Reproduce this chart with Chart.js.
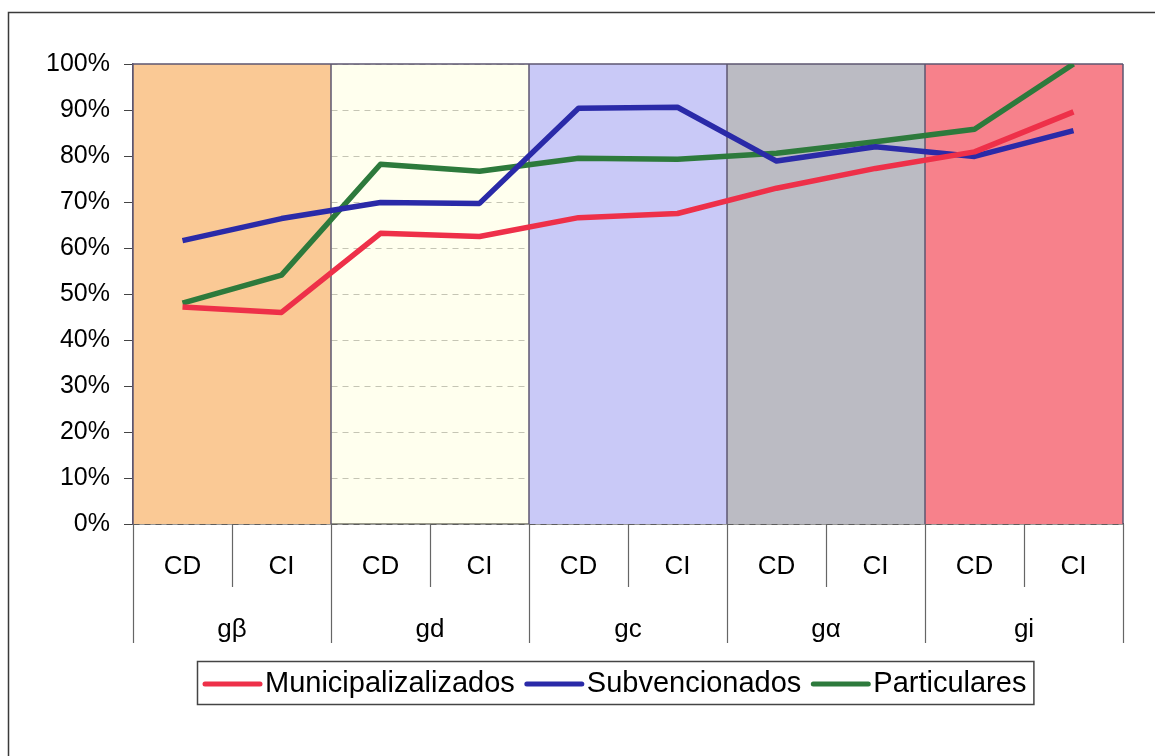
<!DOCTYPE html>
<html>
<head>
<meta charset="utf-8">
<title>Municipalizados / Subvencionados / Particulares</title>
<script src="https://cdn.jsdelivr.net/npm/chart.js@4.4.1/dist/chart.umd.min.js"></script>
<style>
  html, body { margin: 0; padding: 0; background: #ffffff; }
  #wrap { position: relative; width: 1155px; height: 756px; }
</style>
</head>
<body>
<div id="wrap"><canvas id="grupoChart" width="1155" height="756"></canvas></div>
<script>
// categories on the first axis row, groups on the second row
const categories = ['CD', 'CI', 'CD', 'CI', 'CD', 'CI', 'CD', 'CI', 'CD', 'CI'];
const groups = ['gβ', 'gd', 'gc', 'gα', 'gi'];

// percentages per category
const municipalizados = [47.2, 46.0, 63.2, 62.5, 66.6, 67.5, 73.0, 77.3, 80.9, 89.6];
const subvencionados = [61.6, 66.4, 69.9, 69.7, 90.4, 90.6, 78.9, 82.0, 79.9, 85.5];
const particulares = [48.0, 54.1, 78.2, 76.7, 79.5, 79.3, 80.6, 83.1, 85.8, 100.0];

const yTicks = [0, 10, 20, 30, 40, 50, 60, 70, 80, 90, 100];

// background colour behind each group (gd is see-through so the grid shows)
const groupColors = ['#fac995', 'rgba(255,255,222,0.5)', '#c9c9f7', '#bbbbc3', '#f7818b'];

const FONT = "'Liberation Sans', Arial, sans-serif";

// draws the coloured group bands behind the lines
const groupBands = {
    id: 'groupBands',
    beforeDatasetsDraw(chart) {
        const { ctx, chartArea, scales } = chart;
        const x = scales.x;
        const step = x.getPixelForValue(1) - x.getPixelForValue(0);
        ctx.save();
        groups.forEach((g, i) => {
            const left = x.getPixelForValue(i * 2) - step / 2;
            ctx.fillStyle = groupColors[i];
            ctx.fillRect(left, chartArea.top, step * 2, chartArea.bottom - chartArea.top);
        });
        // band edges
        ctx.strokeStyle = '#5d5670';
        ctx.lineWidth = 1.5;
        for (let i = 0; i <= groups.length; i++) {
            const bx = x.getPixelForValue(i * 2) - step / 2;
            ctx.beginPath();
            ctx.moveTo(bx, chartArea.top);
            ctx.lineTo(bx, chartArea.bottom);
            ctx.stroke();
        }
        ctx.beginPath();
        ctx.moveTo(chartArea.left, chartArea.top);
        ctx.lineTo(chartArea.right, chartArea.top);
        ctx.stroke();
        ctx.restore();
    }
};

// separators under the x axis, outer frame and the boxed legend
const axisAndLegend = {
    id: 'axisAndLegend',
    beforeDraw(chart) {
        const { ctx } = chart;
        ctx.save();
        ctx.strokeStyle = '#3a3a3a';
        ctx.lineWidth = 1.5;
        ctx.strokeRect(8.5, 12.5, 1300, 900);
        ctx.restore();
    },
    afterDraw(chart) {
        const { ctx, chartArea, scales } = chart;
        const x = scales.x;
        const step = x.getPixelForValue(1) - x.getPixelForValue(0);
        ctx.save();
        ctx.strokeStyle = '#666';
        ctx.lineWidth = 1.2;
        for (let i = 0; i <= categories.length; i++) {
            const sx = Math.round(x.getPixelForValue(i) - step / 2) + 0.5;
            const end = i % 2 === 0 ? chartArea.bottom + 119 : chartArea.bottom + 63;
            ctx.beginPath();
            ctx.moveTo(sx, chartArea.bottom);
            ctx.lineTo(sx, end);
            ctx.stroke();
        }

        // legend
        const ly = 684;
        let lx = 203;
        ctx.font = '29px ' + FONT;
        ctx.textBaseline = 'middle';
        ctx.textAlign = 'left';
        chart.data.datasets.forEach((ds) => {
            ctx.strokeStyle = ds.borderColor;
            ctx.lineWidth = 5;
            ctx.lineCap = 'round';
            ctx.beginPath();
            ctx.moveTo(lx + 2, ly);
            ctx.lineTo(lx + 57, ly);
            ctx.stroke();
            lx += 62;
            ctx.fillStyle = '#000';
            ctx.fillText(ds.label, lx, ly);
            lx += ctx.measureText(ds.label).width + 10;
        });
        ctx.strokeStyle = '#444';
        ctx.lineWidth = 1.5;
        ctx.lineCap = 'butt';
        ctx.strokeRect(197.5, 661.5, lx - 3 - 197, 43);
        ctx.restore();
    }
};

const lineStyle = {
    borderWidth: 5.5,
    pointRadius: 0,
    pointHoverRadius: 0,
    tension: 0,
    borderJoinStyle: 'round',
    fill: false
};

const ctx = document.getElementById('grupoChart').getContext('2d');
new Chart(ctx, {
    type: 'line',
    data: {
        labels: categories,
        datasets: [
            { label: 'Municipalizalizados', data: municipalizados, borderColor: '#ee3049', backgroundColor: '#ee3049', ...lineStyle },
            { label: 'Subvencionados', data: subvencionados, borderColor: '#2a2aa8', backgroundColor: '#2a2aa8', ...lineStyle },
            { label: 'Particulares', data: particulares, borderColor: '#2d7a3c', backgroundColor: '#2d7a3c', ...lineStyle }
        ]
    },
    options: {
        responsive: false,
        animation: false,
        events: [],
        layout: { padding: { top: 64, right: 32, bottom: 110, left: 0 } },
        plugins: {
            legend: { display: false },
            tooltip: { enabled: false }
        },
        scales: {
            x: {
                type: 'category',
                offset: true,
                weight: 0,
                grid: { display: true, drawOnChartArea: false, drawTicks: false, color: 'transparent' },
                border: { display: true, color: '#333', width: 1.5 },
                ticks: { color: '#000', font: { family: FONT, size: 26 }, padding: 27, maxRotation: 0, autoSkip: false },
                afterFit(scale) { scale.height = 60; }
            },
            x2: {
                type: 'category',
                labels: groups,
                offset: true,
                position: 'bottom',
                weight: 1,
                grid: { display: false, drawTicks: false },
                border: { display: false },
                ticks: { color: '#000', font: { family: FONT, size: 26 }, padding: 30, maxRotation: 0, autoSkip: false },
                afterFit(scale) { scale.height = 62; }
            },
            y: {
                min: 0,
                max: 100,
                afterBuildTicks(scale) { scale.ticks = yTicks.map(v => ({ value: v })); },
                grid: { color: 'rgba(100,100,100,0.75)', tickColor: '#444', tickLength: 9, lineWidth: 1 },
                border: { display: true, color: '#5d5670', width: 1.5, dash: [6, 5] },
                ticks: { color: '#000', font: { family: FONT, size: 25 }, padding: 14, callback: v => v + '%' },
                afterFit(scale) { scale.width = 133; }
            }
        }
    },
    plugins: [groupBands, axisAndLegend]
});
</script>
</body>
</html>
